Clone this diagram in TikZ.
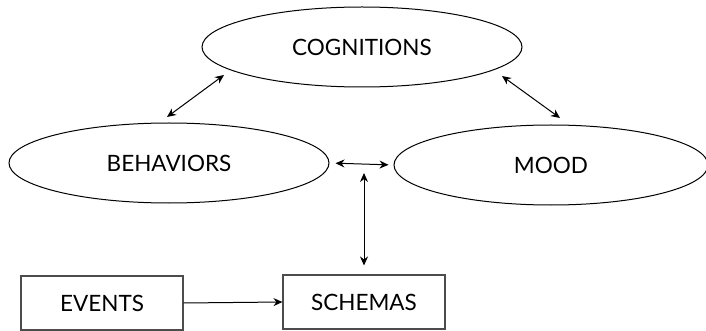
\documentclass[tikz,border=0pt]{standalone}
\usepackage{fontspec}
\setmainfont{Lato}
\usetikzlibrary{shapes.geometric,arrows.meta}
\begin{document}
\begin{tikzpicture}[x=1pt,y=-1pt,
  txt/.style={font=\fontsize{22.5}{26}\selectfont},
  oval/.style={txt,draw=black,line width=1pt,ellipse,inner sep=0pt,minimum width=320pt,minimum height=80pt},
  box/.style={txt,draw=black!70,line width=1.1pt,rectangle,inner sep=0pt,minimum width=162pt,minimum height=54pt},
  conn/.style={line width=1pt,{Stealth[length=9pt,width=8pt]}-{Stealth[length=9pt,width=8pt]}},
  oneway/.style={line width=1pt,-{Stealth[length=9pt,width=8pt]}}]
\useasboundingbox (0,0) rectangle (706,331);
\node[oval] (cog) at (362,47) {COGNITIONS};
\node[oval] (beh) at (169,163) {BEHAVIORS};
\node[oval,minimum width=314pt] (mood) at (551,165) {MOOD};
\node[box] (events) at (102,303) {EVENTS};
\node[box] (schemas) at (364,302) {SCHEMAS};
\coordinate (bc1) at (167,117);
\coordinate (bc2) at (224,75);
\coordinate (cm1) at (502,76);
\coordinate (cm2) at (560,118);
\coordinate (vtop) at (364,173);
\draw[conn] (bc1) -- (bc2);
\draw[conn] (cm1) -- (cm2);
\draw[conn,shorten <=6pt,shorten >=5pt] (beh.east) -- (mood.west);
\draw[conn,shorten >=9pt] (vtop) -- (schemas.north);
\draw[oneway] (events.east) -- (schemas.west);
\end{tikzpicture}
\end{document}
